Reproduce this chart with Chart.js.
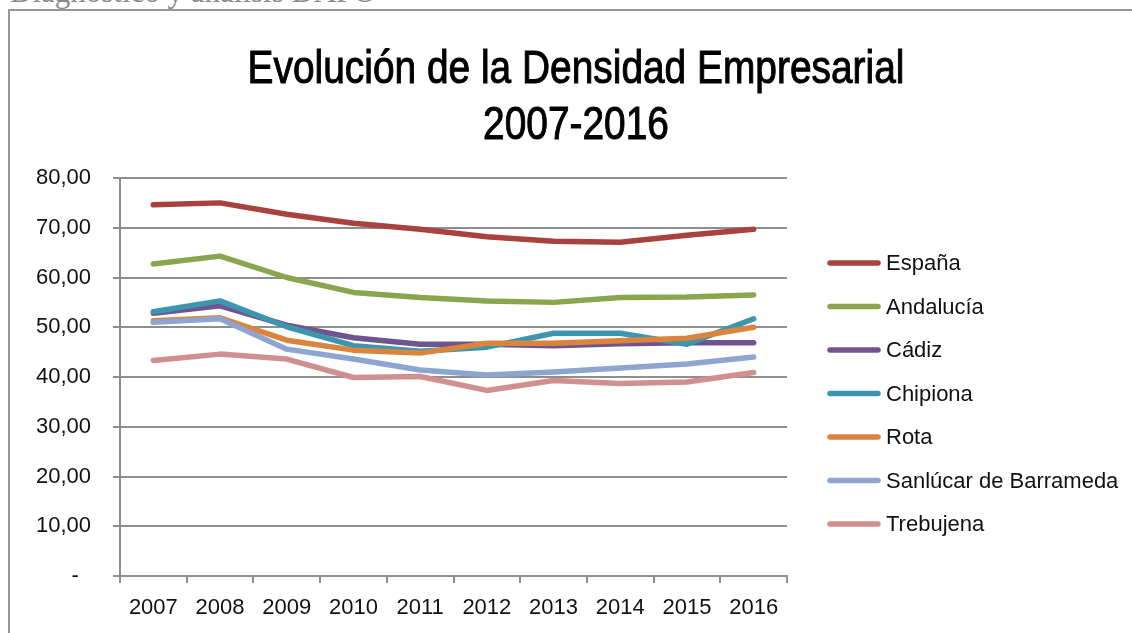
<!DOCTYPE html>
<html>
<head>
<meta charset="utf-8">
<script src="https://cdn.jsdelivr.net/npm/chart.js"></script>
<style>
  body { margin: 0; background: #fff; }
  #wrap { position: relative; width: 1132px; height: 633px; overflow: hidden; }
  #cabecera { position: absolute; left: 10px; top: -23px; font: 31px 'Liberation Serif', serif; line-height: 30px; color: #8a8a8a; white-space: nowrap; }
  #marco { position: absolute; left: 8px; top: 9px; width: 1200px; height: 700px; border-left: 2px solid #979797; border-top: 2px solid #979797; }
  canvas { position: absolute; left: 0; top: 0; }
</style>
</head>
<body>
<div id="wrap">
  <div id="cabecera">Diagnóstico y análisis DAFO</div>
  <div id="marco"></div>
  <canvas id="densidadChart" width="1132" height="633"></canvas>
</div>
<script>
var anios = ['2007', '2008', '2009', '2010', '2011', '2012', '2013', '2014', '2015', '2016']

var espana    = [74.6, 75.0, 72.7, 70.9, 69.7, 68.2, 67.3, 67.1, 68.5, 69.7]
var andalucia = [62.7, 64.3, 60.0, 57.0, 56.0, 55.3, 55.0, 56.0, 56.1, 56.5]
var cadiz     = [52.8, 54.3, 50.4, 47.9, 46.6, 46.6, 46.3, 46.7, 46.9, 46.9]
var chipiona  = [53.1, 55.3, 50.1, 46.3, 45.2, 46.0, 48.8, 48.8, 46.6, 51.7]
var rota      = [51.3, 51.9, 47.4, 45.4, 44.8, 46.8, 46.8, 47.3, 47.8, 50.0]
var sanlucar  = [51.0, 51.7, 45.6, 43.6, 41.4, 40.4, 41.0, 41.8, 42.6, 44.0]
var trebujena = [43.3, 44.6, 43.6, 39.9, 40.1, 37.3, 39.3, 38.7, 39.0, 40.9]

var nombres = ['España', 'Andalucía', 'Cádiz', 'Chipiona', 'Rota', 'Sanlúcar de Barrameda', 'Trebujena']
var colores = ['#A9423F', '#89A54E', '#6F5590', '#3D96AE', '#DB843D', '#8DA5CF', '#D09090']
var series = [espana, andalucia, cadiz, chipiona, rota, sanlucar, trebujena]

var titulo = ['Evolución de la Densidad Empresarial', '2007-2016']

var gris = '#8e8e8e'
var fuente = "'Liberation Sans', Arial, sans-serif"

// titulo y leyenda dibujados a mano (como en excel)
const decoracion = {
  id: 'decoracion',
  afterDraw(chart) {
    const ctx = chart.ctx
    ctx.save()
    ctx.fillStyle = '#000'
    ctx.strokeStyle = '#000'
    ctx.lineWidth = 1
    ctx.font = '46px ' + fuente
    ctx.textAlign = 'center'
    ctx.textBaseline = 'alphabetic'
    // letra estrecha: se comprime en horizontal
    ctx.translate(576, 0)
    ctx.scale(0.845, 1)
    titulo.forEach((t, i) => {
      ctx.fillText(t, 0, 83 + i * 56)
      ctx.strokeText(t, 0, 83 + i * 56)
    })
    ctx.restore()

    ctx.save()
    ctx.font = '22px ' + fuente
    ctx.textAlign = 'left'
    ctx.textBaseline = 'middle'
    ctx.lineCap = 'round'
    ctx.lineWidth = 5.5
    chart.data.datasets.forEach((ds, i) => {
      const y = 263 + i * 43.5
      ctx.strokeStyle = ds.borderColor
      ctx.beginPath()
      ctx.moveTo(830, y)
      ctx.lineTo(878, y)
      ctx.stroke()
      ctx.fillStyle = '#111'
      ctx.fillText(ds.label, 886, y + 1)
    })
    ctx.restore()
  }
}

var ctx = document.getElementById('densidadChart').getContext('2d')
var chart = new Chart(ctx, {
  type: 'line',
  data: {
    labels: anios,
    datasets: series.map((valores, i) => ({
      label: nombres[i],
      data: valores,
      borderColor: colores[i],
      backgroundColor: colores[i],
      borderWidth: 5.5,
      borderCapStyle: 'round',
      borderJoinStyle: 'round',
      pointRadius: 0,
      tension: 0,
      fill: false,
      order: series.length - i
    }))
  },
  options: {
    responsive: false,
    animation: false,
    devicePixelRatio: 1,
    layout: { padding: { left: 0, top: 178, right: 345, bottom: 0 } },
    plugins: {
      legend: { display: false },
      title: { display: false },
      tooltip: { enabled: false }
    },
    scales: {
      x: {
        offset: true,
        grid: { display: true, drawOnChartArea: false, drawTicks: true, tickLength: 7, offset: true, color: gris, lineWidth: 2 },
        border: { display: true, color: gris, width: 2 },
        ticks: { color: '#111', font: { family: fuente, size: 22 }, padding: 12, maxRotation: 0, autoSkip: false },
        afterFit: s => { s.height = 57 }
      },
      y: {
        min: 0,
        max: 80,
        ticks: {
          stepSize: 10,
          color: '#111',
          font: { family: fuente, size: 22 },
          padding: 22,
          callback: v => v === 0 ? '-  ' : v.toFixed(2).replace('.', ',')
        },
        grid: { color: gris, lineWidth: 2, tickLength: 7 },
        border: { display: true, color: gris, width: 2 },
        afterFit: s => { s.width = 120 }
      }
    }
  },
  plugins: [decoracion]
})
</script>
</body>
</html>
